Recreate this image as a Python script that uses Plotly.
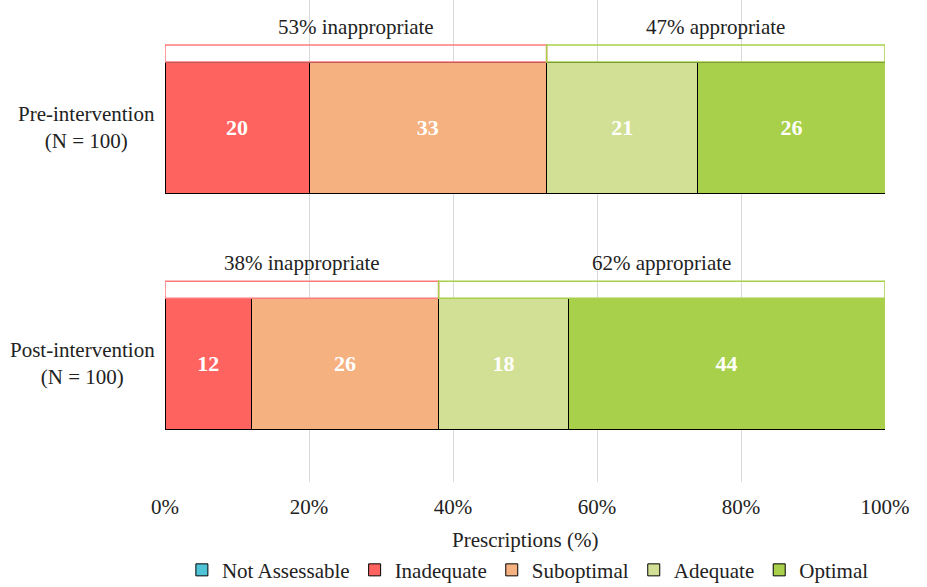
import plotly.graph_objects as go

groups = ["Pre-intervention<br>(N = 100)", "Post-intervention<br>(N = 100)"]
group_pos = [1, 0]
categories = ["Not Assessable", "Inadequate", "Suboptimal", "Adequate", "Optimal"]
values = {
    "Not Assessable": [None, None],
    "Inadequate": [20, 12],
    "Suboptimal": [33, 26],
    "Adequate": [21, 18],
    "Optimal": [26, 44],
}
colors = {
    "Not Assessable": "#4FC4D6",
    "Inadequate": "#FF6360",
    "Suboptimal": "#F5B17F",
    "Adequate": "#D2E095",
    "Optimal": "#A8D04A",
}
inappropriate = ["Inadequate", "Suboptimal"]
appropriate = ["Adequate", "Optimal"]
x_ticks = [0, 20, 40, 60, 80, 100]
x_tick_labels = ["0%", "20%", "40%", "60%", "80%", "100%"]
x_title = "Prescriptions (%)"

FONT = "Liberation Serif"
BAR_W = 0.555
BRACKET_H = 0.072

fig = go.Figure()
for cat in categories:
    vals = values[cat]
    fig.add_trace(go.Bar(
        name=cat, y=group_pos, x=vals, orientation="h", width=BAR_W,
        marker=dict(color=colors[cat], line=dict(color="black", width=1)),
        text=[str(v) if v is not None else "" for v in vals],
        textposition="inside", insidetextanchor="middle",
        textfont=dict(family=FONT, size=22, color="white", weight="bold"),
        hoverinfo="x+name",
    ))

for i, pos in enumerate(group_pos):
    inap = sum(values[c][i] for c in inappropriate)
    ap = sum(values[c][i] for c in appropriate)
    top = pos + BAR_W / 2
    for x0, x1, col, label in [(0, inap, "#FF7B7B", f"{inap}% inappropriate"),
                               (inap, inap + ap, "#A8D04A", f"{ap}% appropriate")]:
        fig.add_shape(type="rect", xref="x", yref="y", x0=x0, x1=x1,
                      y0=top, y1=top + BRACKET_H,
                      line=dict(color=col, width=1.5), fillcolor="rgba(0,0,0,0)")
        fig.add_annotation(x=(x0 + x1) / 2, y=top + BRACKET_H, xref="x", yref="y",
                           text=label, showarrow=False, yanchor="bottom", yshift=4,
                           font=dict(family=FONT, size=21, color="#222"))
    fig.add_annotation(x=0, xref="paper", xshift=-8, y=pos, yref="y",
                       text=groups[i], showarrow=False, xanchor="right",
                       align="center", font=dict(family=FONT, size=21, color="#222"))

fig.add_annotation(x=0.5, xref="paper", y=-0.12, yref="paper", text=x_title,
                   showarrow=False, xanchor="center", yanchor="middle",
                   font=dict(family=FONT, size=21, color="#222"))

fig.update_layout(
    barmode="stack",
    width=927, height=587,
    margin=dict(l=165, r=42, t=0, b=105, autoexpand=False),
    plot_bgcolor="white", paper_bgcolor="white",
    font=dict(family=FONT, size=21, color="#222"),
    xaxis=dict(range=[0, 100], tickvals=x_ticks, ticktext=x_tick_labels,
               showgrid=True, gridcolor="#D9D9D9", gridwidth=1, zeroline=False,
               showline=False, ticks="", automargin=False, ticklabelstandoff=10,
               tickfont=dict(size=21)),
    yaxis=dict(range=[-0.5, 1.54], showticklabels=False, showgrid=False,
               zeroline=False, showline=False),
    legend=dict(orientation="h", x=0.504, xanchor="center", y=-0.183, yref="paper",
                yanchor="middle", font=dict(size=21), traceorder="normal",
                itemwidth=30),
    showlegend=True,
)

fig.write_html("out.html")
